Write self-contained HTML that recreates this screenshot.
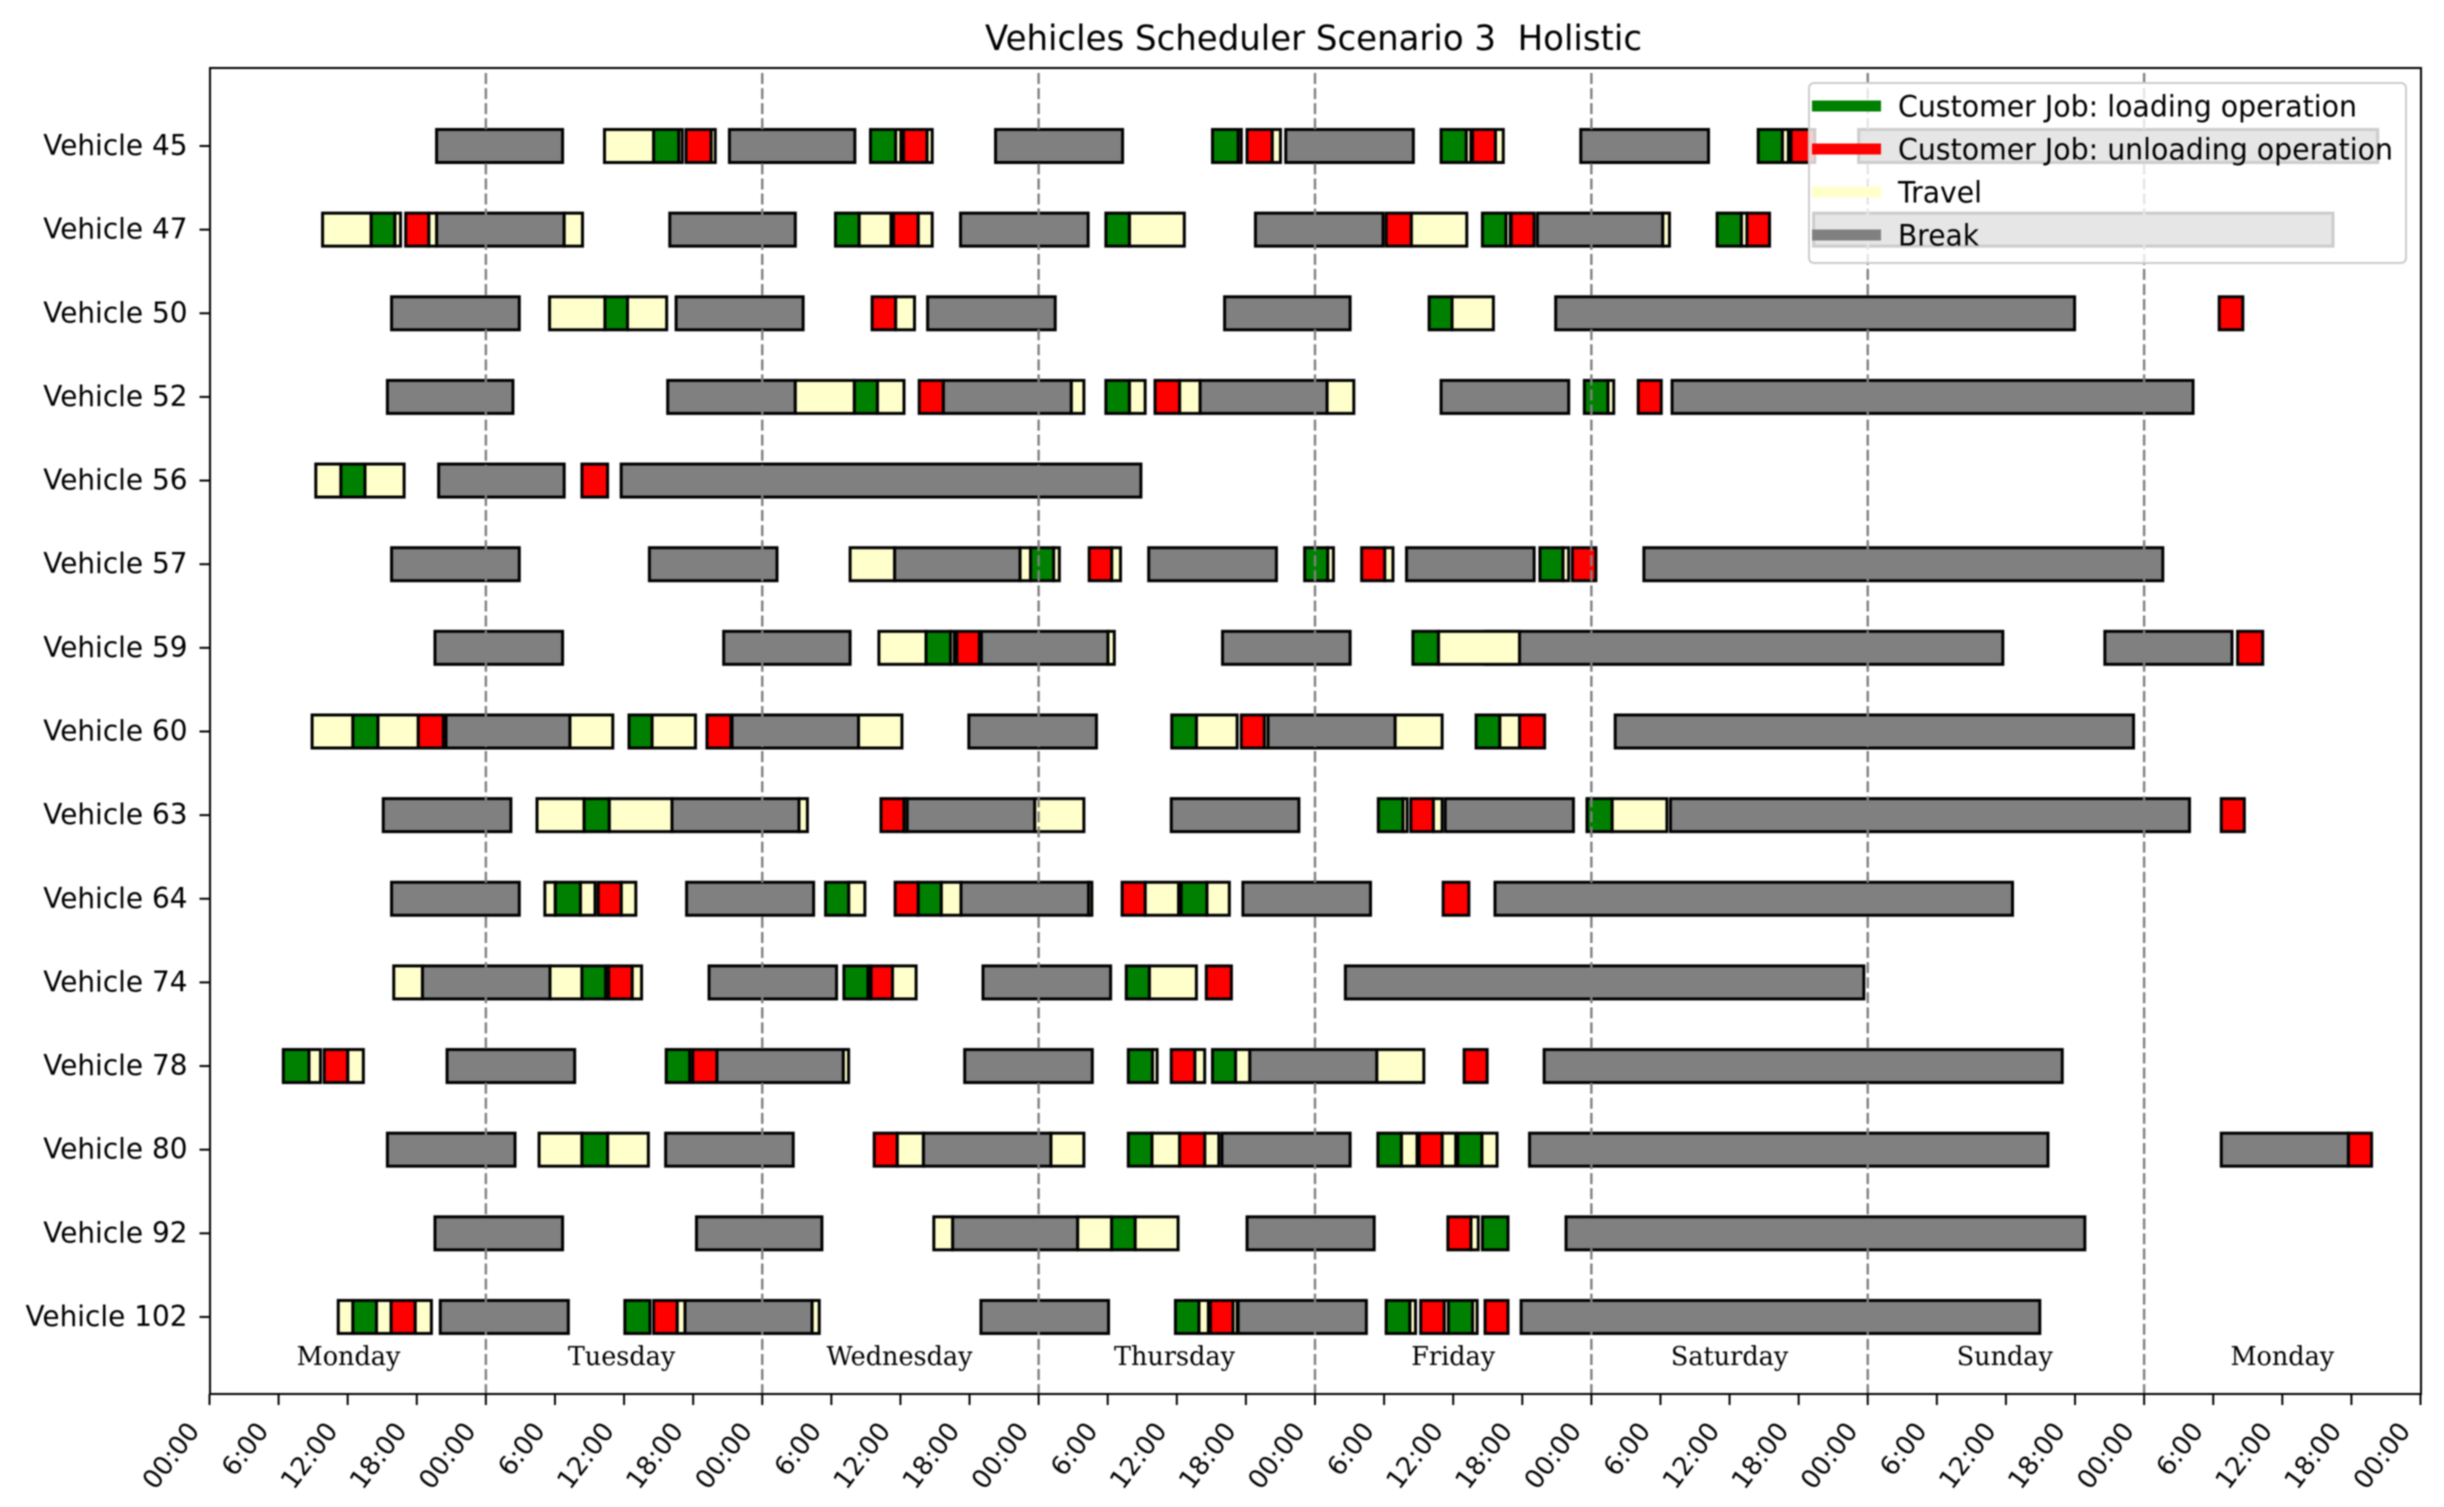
<!DOCTYPE html>
<html lang="en">
<head>
<meta charset="utf-8">
<title>Vehicles Scheduler Scenario 3 Holistic</title>
<style>
  html, body { margin: 0; padding: 0; background: #fff; width: 2444px; height: 1507px; overflow: hidden; }
  svg { display: block; filter: blur(0.8px); }
  text { fill: #000; }
  .sans { font-family: "DejaVu Sans", "Liberation Sans", sans-serif; }
  .serif { font-family: "DejaVu Serif", "Liberation Serif", serif; }
</style>
</head>
<body>
<svg id="chart" xmlns="http://www.w3.org/2000/svg" width="2444" height="1507" viewBox="0 0 2444 1507">
  <rect x="0" y="0" width="2444" height="1507" fill="#ffffff"/>
  <text class="sans" x="1313.5" y="50" font-size="35" text-anchor="middle" textLength="657" lengthAdjust="spacingAndGlyphs" style="white-space:pre" xml:space="preserve">Vehicles Scheduler Scenario 3  Holistic</text>
  <g id="bars"></g>
  <g id="grid"></g>
  <g id="dayLabels"></g>
  <rect x="210" y="68" width="2211" height="1326" fill="none" stroke="#000" stroke-width="2"/>
  <g id="yAxis"></g>
  <g id="xAxis"></g>
  <g>
    <rect x="1809" y="83" width="597" height="180" rx="5" ry="5" fill="#ffffff" fill-opacity="0.8" stroke="#cccccc" stroke-width="2"/>
    <line x1="1812" x2="1881" y1="106" y2="106" stroke="#008000" stroke-width="11"/>
    <text class="sans" x="1898" y="116.5" font-size="29" textLength="459" lengthAdjust="spacingAndGlyphs">Customer Job: loading operation</text>
    <line x1="1812" x2="1881" y1="149" y2="149" stroke="#ff0000" stroke-width="11"/>
    <text class="sans" x="1898" y="159.5" font-size="29" textLength="495" lengthAdjust="spacingAndGlyphs">Customer Job: unloading operation</text>
    <line x1="1812" x2="1881" y1="192" y2="192" stroke="#ffffcc" stroke-width="11"/>
    <text class="sans" x="1898" y="202.5" font-size="29" textLength="84" lengthAdjust="spacingAndGlyphs">Travel</text>
    <line x1="1812" x2="1881" y1="235" y2="235" stroke="#808080" stroke-width="11"/>
    <text class="sans" x="1898" y="245.5" font-size="29" textLength="81" lengthAdjust="spacingAndGlyphs">Break</text>
  </g>
</svg>
<script>
const vehicles = ["Vehicle 45","Vehicle 47","Vehicle 50","Vehicle 52","Vehicle 56","Vehicle 57","Vehicle 59","Vehicle 60","Vehicle 63","Vehicle 64","Vehicle 74","Vehicle 78","Vehicle 80","Vehicle 92","Vehicle 102"];

// All spans are [start hour, end hour], counted from Monday 00:00. One row per vehicle.
const breakSpans = [
  [[19.72,30.66],[45.15,56.04],[68.26,79.29],[93.46,104.54],[119.08,130.17],[143.21,188.28]],
  [[19.72,30.8],[39.97,50.87],[65.22,76.3],[90.83,101.91],[115.31,126.2],[139.3,184.4]],
  [[15.81,26.9],[40.52,51.55],[62.36,73.44],[88.15,99.05],[116.9,161.96]],
  [[15.45,26.35],[39.79,50.87],[63.72,74.84],[86.02,97.05],[106.95,118.03],[127.01,172.25]],
  [[19.9,30.8],[35.75,80.88]],
  [[15.81,26.9],[38.2,49.28],[59.49,70.39],[81.56,92.65],[103.95,115.03],[124.56,169.62]],
  [[19.58,30.66],[44.65,55.63],[67.03,78.02],[87.97,99.05],[110.77,155.73],[164.59,175.63]],
  [[20.54,31.3],[45.38,56.36],[65.94,77.02],[91.92,102.96],[122.07,167.08]],
  [[15.09,26.17],[40.16,51.19],[60.58,71.66],[83.52,94.6],[107.31,118.44],[126.87,171.94]],
  [[15.81,26.9],[41.43,52.46],[65.26,76.34],[89.74,100.82],[111.63,156.57]],
  [[18.49,29.57],[43.38,54.45],[67.17,78.25],[98.64,143.66]],
  [[20.63,31.71],[44.06,55.04],[65.58,76.66],[90.33,101.37],[115.9,160.89]],
  [[15.45,26.53],[39.61,50.69],[61.99,73.07],[87.92,99.05],[114.63,159.65],[174.7,185.74]],
  [[19.58,30.66],[42.29,53.18],[64.53,75.39],[90.1,101.14],[117.8,162.85]],
  [[20.04,31.16],[41.29,52.33],[66.99,78.07],[89.33,100.46],[113.9,158.94]]
];

const travelSpans = [
  [[34.3,38.57],[40.75,41.06],[43.56,43.92],[59.58,60.04],[62.31,62.76],[89.33,89.6],[92.28,93.0],[109.13,109.54],[111.67,112.35],[136.58,137.11]],
  [[9.82,14.04],[16.09,16.59],[19.04,19.72],[30.8,32.39],[56.41,59.18],[61.54,62.76],[79.88,84.65],[104.36,109.18],[112.58,112.95],[126.2,126.78],[133.02,133.51]],
  [[29.53,34.34],[36.3,39.7],[59.58,61.22],[107.9,111.49]],
  [[50.87,56.0],[58.0,60.31],[74.84,75.93],[79.88,81.25],[84.24,86.02],[97.05,99.37],[121.44,121.94]],
  [[9.23,11.41],[13.5,16.9]],
  [[55.63,59.49],[70.39,71.3],[73.3,73.8],[78.34,79.11],[97.1,97.6],[102.05,102.77],[117.53,118.03]],
  [[58.13,62.22],[64.35,64.67],[78.02,78.57],[106.72,113.76]],
  [[8.91,12.45],[14.63,18.13],[31.3,35.02],[38.43,42.2],[56.36,60.13],[85.7,89.24],[91.6,91.92],[102.96,107.04],[112.04,113.76]],
  [[28.44,32.53],[34.71,40.16],[51.19,51.92],[60.31,60.58],[71.66,75.93],[103.64,104.0],[106.27,107.04],[121.8,126.56]],
  [[29.12,30.03],[32.21,33.48],[35.75,37.02],[55.5,56.91],[63.54,65.26],[76.34,76.62],[81.25,84.15],[86.61,88.56]],
  [[16.0,18.49],[29.57,32.34],[34.39,34.66],[36.7,37.52],[57.18,57.45],[59.31,61.36],[81.61,85.7]],
  [[8.64,9.64],[12.0,13.36],[41.7,41.97],[55.04,55.5],[81.88,82.29],[85.56,86.42],[89.1,90.33],[101.37,105.45]],
  [[28.62,32.34],[34.57,38.11],[59.72,61.99],[73.07,75.93],[81.84,84.24],[86.42,87.65],[103.5,104.86],[107.04,108.22],[110.49,111.81]],
  [[62.9,64.53],[75.39,78.34],[80.38,84.11],[109.54,110.18]],
  [[11.18,12.45],[14.5,15.77],[17.86,19.27],[40.61,41.29],[52.33,52.95],[85.92,86.74],[88.88,89.24],[104.23,104.73],[107.22,107.59],[109.68,110.08]]
];

const loadingSpans = [
  [[38.57,40.75],[57.4,59.58],[87.1,89.33],[106.95,109.13],[134.49,136.58]],
  [[14.04,16.09],[54.36,56.41],[77.84,79.88],[110.54,112.58],[130.92,133.02]],
  [[34.34,36.3],[105.91,107.9]],
  [[56.0,58.0],[77.84,79.88],[119.39,121.44]],
  [[11.41,13.5]],
  [[71.3,73.3],[95.1,97.1],[115.53,117.53]],
  [[62.22,64.35],[104.5,106.72]],
  [[12.45,14.63],[36.43,38.43],[83.56,85.7],[109.99,112.04]],
  [[32.53,34.71],[101.5,103.64],[119.62,121.8]],
  [[30.03,32.21],[53.5,55.5],[61.54,63.54],[84.38,86.61]],
  [[32.34,34.39],[55.09,57.18],[79.61,81.61]],
  [[6.41,8.64],[39.66,41.7],[79.79,81.88],[87.1,89.1]],
  [[32.34,34.57],[79.79,81.84],[101.46,103.5],[108.4,110.49]],
  [[78.34,80.38],[110.54,112.76]],
  [[12.45,14.5],[36.07,38.25],[83.88,85.92],[102.18,104.23],[107.59,109.68]]
];

const unloadingSpans = [
  [[41.38,43.56],[60.27,62.31],[90.1,92.28],[109.68,111.67],[137.34,139.4]],
  [[17.04,19.04],[59.4,61.54],[102.18,104.36],[113.04,115.03],[133.51,135.47]],
  [[57.54,59.58],[174.52,176.57]],
  [[61.63,63.72],[82.11,84.24],[124.07,126.07]],
  [[32.34,34.57]],
  [[76.39,78.34],[100.05,102.05],[118.35,120.39]],
  [[64.9,66.85],[176.12,178.3]],
  [[18.13,20.31],[43.2,45.29],[89.6,91.6],[113.76,115.94]],
  [[58.31,60.31],[104.32,106.27],[174.7,176.7]],
  [[33.75,35.75],[59.54,61.54],[79.25,81.25],[107.13,109.36]],
  [[34.66,36.7],[57.45,59.31],[86.56,88.74]],
  [[9.96,12.0],[41.97,44.06],[83.52,85.56],[108.95,110.95]],
  [[57.72,59.72],[84.24,86.42],[105.04,107.04],[185.74,187.75]],
  [[107.54,109.54]],
  [[15.77,17.86],[38.57,40.61],[86.92,88.88],[105.18,107.22],[110.77,112.76]]
];

const tickLabels = ["00:00","6:00","12:00","18:00","00:00","6:00","12:00","18:00","00:00","6:00","12:00","18:00","00:00","6:00","12:00","18:00","00:00","6:00","12:00","18:00","00:00","6:00","12:00","18:00","00:00","6:00","12:00","18:00","00:00","6:00","12:00","18:00","00:00"];
const tickStepHours = 6;
const gridDays = [1,2,3,4,5,6,7];
const dayNames = ["Monday","Tuesday","Wednesday","Thursday","Friday","Saturday","Sunday","Monday"];
const dayLabelHours = [12.07,35.78,59.92,83.8,108.0,132.0,155.9,180.0];

const NS = "http://www.w3.org/2000/svg";
const plot = { left: 209.5, right: 2420.5, top: 68, bottom: 1394, totalHours: 192, firstRow: 146, rowStep: 83.64, barHeight: 33 };
function xScale(h) { return plot.left + (plot.right - plot.left) * h / plot.totalHours; }
function yScale(i) { return plot.firstRow + plot.rowStep * i; }
function make(tag, attrs, parent) {
  const el = document.createElementNS(NS, tag);
  for (const k in attrs) el.setAttribute(k, attrs[k]);
  parent.appendChild(el);
  return el;
}

const barsLayer = document.getElementById('bars');
const gridLayer = document.getElementById('grid');
const dayLayer = document.getElementById('dayLabels');
const yLayer = document.getElementById('yAxis');
const xLayer = document.getElementById('xAxis');

function drawSpan(span, row, color, name) {
  const el = make('rect', { x: xScale(span[0]), y: yScale(row) - plot.barHeight / 2, width: xScale(span[1]) - xScale(span[0]), height: plot.barHeight, fill: color, stroke: '#000', 'stroke-width': 3 }, barsLayer);
  
  
}

vehicles.forEach(function (vehicle, row) {
  breakSpans[row].forEach(function (s) { drawSpan(s, row, '#808080', 'break-bar'); });
  travelSpans[row].forEach(function (s) { drawSpan(s, row, '#ffffcc', 'travel-bar'); });
  loadingSpans[row].forEach(function (s) { drawSpan(s, row, '#008000', 'loading-bar'); });
  unloadingSpans[row].forEach(function (s) { drawSpan(s, row, '#ff0000', 'unloading-bar'); });

  const tick = make('line', { x1: plot.left - 10, x2: plot.left, y1: yScale(row), y2: yScale(row), stroke: '#000', 'stroke-width': 2 }, yLayer);
  
  

  const lx = 187.5, ly = yScale(row) + 9;
  const label = make('text', { x: 0, y: 0, 'text-anchor': 'end', 'font-size': 28.5, class: 'sans', transform: 'translate(' + lx + ' ' + ly + ') scale(0.98 1)' }, yLayer);
  label.textContent = vehicle;
  
  
});

gridDays.forEach(function (d) {
  const line = make('line', { x1: xScale(d * 24), x2: xScale(d * 24), y1: 73, y2: plot.bottom, stroke: '#808080', 'stroke-width': 2.4, 'stroke-dasharray': '11 4.07' }, gridLayer);
  
  
});

dayNames.forEach(function (name, i) {
  const lx = xScale(dayLabelHours[i]);
  const label = make('text', { x: 0, y: 0, 'text-anchor': 'middle', 'font-size': 26, class: 'serif', transform: 'translate(' + lx + ' 1365) scale(0.98 1)' }, dayLayer);
  label.textContent = name;
  
  
});

tickLabels.forEach(function (text, i) {
  const px = xScale(i * tickStepHours);
  const tick = make('line', { x1: px, x2: px, y1: plot.bottom, y2: plot.bottom + 11, stroke: '#000', 'stroke-width': 2 }, xLayer);
  
  

  const ax = px - 9, ay = 1431;
  const label = make('text', { x: ax, y: ay, 'text-anchor': 'end', 'font-size': 26, class: 'sans', transform: 'rotate(-53 ' + ax + ' ' + ay + ')' }, xLayer);
  label.textContent = text;
  
  
});
</script>
</body>
</html>
